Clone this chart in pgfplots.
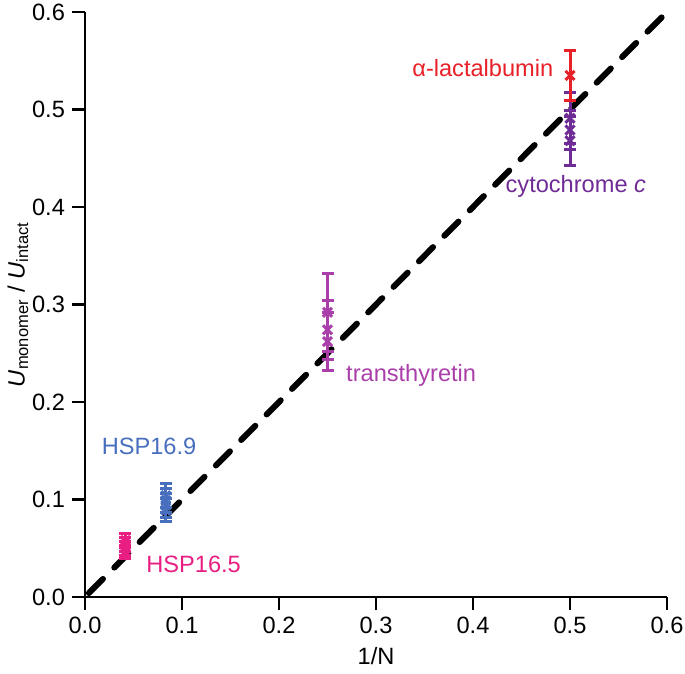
\documentclass[border=0pt]{standalone}
\usepackage{pgfplots}
\pgfplotsset{compat=1.18}
\usepackage{pgfplotstable}
\usepackage{fontspec}
\setmainfont{Liberation Sans}
\definecolor{clac}{RGB}{232,32,40}
\definecolor{ccyt}{RGB}{112,44,150}
\definecolor{ctth}{RGB}{170,62,170}
\definecolor{chsa}{RGB}{72,110,190}
\definecolor{chsb}{RGB}{232,30,130}

\pgfplotstableread{
x y e
0.5 0.535 0.026
}\lactalbumin
\pgfplotstableread{
x y e
0.5 0.491 0.026
0.5 0.479 0.020
0.5 0.468 0.025
}\cytochrome
\pgfplotstableread{
x y e
0.25 0.292 0.040
0.25 0.274 0.030
0.25 0.262 0.030
}\transthyretin
\pgfplotstableread{
x y e
0.0833 0.104 0.012
0.0833 0.099 0.012
0.0833 0.094 0.012
0.0833 0.089 0.012
}\hspnine
\pgfplotstableread{
x y e
0.0417 0.058 0.007
0.0417 0.054 0.007
0.0417 0.050 0.007
0.0417 0.046 0.007
}\hspfive

\pgfplotsset{pt/.style={only marks, mark=x, mark size=3.2pt, line width=1.5pt, color=#1,
  error bars/.cd, y dir=both, y explicit, error bar style={line width=1.5pt},
  error mark options={rotate=90, mark size=3pt, line width=1.5pt}}}

\begin{document}
\begin{tikzpicture}
\begin{axis}[
    name=ax,
    scale only axis,
    width=291pt, height=292.5pt,
    xmin=0, xmax=0.6, ymin=0, ymax=0.6,
    axis lines=left,
    axis line style={-, line width=1.3pt},
    xtick={0,0.1,...,0.6}, ytick={0,0.1,...,0.6},
    tick style={line width=1.3pt, black},
    tick align=outside,
    major tick length=6.5pt,
    /pgf/number format/.cd, fixed, fixed zerofill, precision=1, assume math mode=true,
    /pgfplots/.cd,
    tick label style={font=\fontsize{11.8}{14}\selectfont},
    xlabel={1/N},
    ylabel={\textit{U}\textsubscript{monomer} / \textit{U}\textsubscript{intact}},
    label style={font=\fontsize{11.8}{14}\selectfont},
    ylabel style={yshift=-5pt},
    clip=false,
]
\addplot[black, line width=3pt, dash pattern=on 10pt off 8pt, line cap=round] coordinates {(0.004,0.004) (0.6,0.6)};

\addplot[pt=ccyt] table[x=x, y=y, y error=e] {\cytochrome};
\addplot[pt=clac] table[x=x, y=y, y error=e] {\lactalbumin};
\addplot[pt=ctth] table[x=x, y=y, y error=e] {\transthyretin};
\addplot[pt=chsa] table[x=x, y=y, y error=e] {\hspnine};
\addplot[pt=chsb] table[x=x, y=y, y error=e] {\hspfive};

\node[anchor=east, text=clac, font=\fontsize{11.8}{14}\selectfont] at (axis cs:0.490,0.5425) {α-lactalbumin};
\node[anchor=center, text=ccyt, font=\fontsize{11.8}{14}\selectfont] at (axis cs:0.506,0.4215) {cytochrome \textit{c}};
\node[anchor=west, text=ctth, font=\fontsize{11.8}{14}\selectfont] at (axis cs:0.262,0.2277) {transthyretin};
\node[anchor=west, text=chsa, font=\fontsize{11.8}{14}\selectfont] at (axis cs:0.010,0.155) {HSP16.9};
\node[anchor=west, text=chsb, font=\fontsize{11.8}{14}\selectfont] at (axis cs:0.056,0.033) {HSP16.5};
\end{axis}
\pgfresetboundingbox
\path ([xshift=-42.5pt,yshift=-38pt]ax.south west) rectangle ([xshift=9pt,yshift=6pt]ax.north east);
\end{tikzpicture}
\end{document}
